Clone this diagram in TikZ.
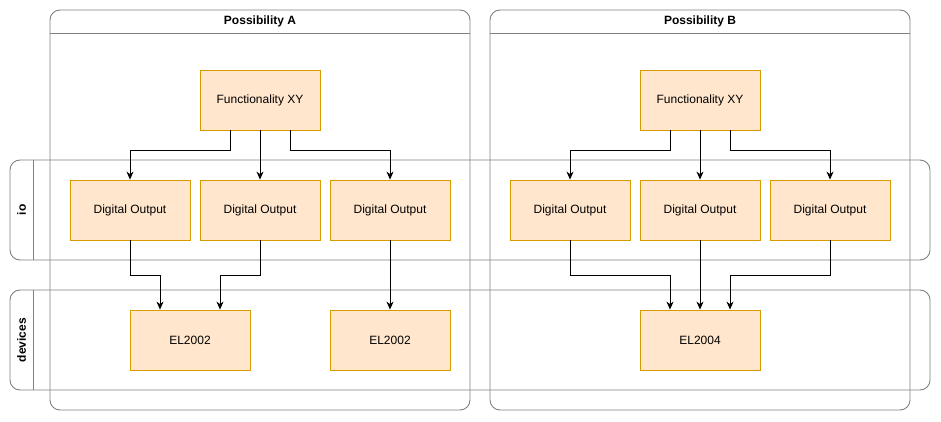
\documentclass[tikz,border=0pt]{standalone}
\usepackage{fontspec}
\setmainfont{Liberation Sans}
\usetikzlibrary{arrows.meta}
\definecolor{boxfill}{HTML}{FFE6CC}
\definecolor{boxline}{HTML}{D79B00}
\definecolor{laneline}{HTML}{808080}
\tikzset{
  block/.style={draw=boxline,fill=boxfill,line width=0.8pt,minimum width=120pt,minimum height=60pt,inner sep=0pt,font=\fontsize{12}{14}\selectfont},
  frame/.style={draw=laneline,line width=0.9pt,rounded corners=10pt},
  title/.style={font=\fontsize{12}{14}\selectfont\bfseries,inner sep=0pt},
  flow/.style={-{Stealth[length=8pt,width=7pt,inset=2.5pt]},line width=0.9pt}
}
\begin{document}
\begin{tikzpicture}[x=1pt,y=-1pt]
    \useasboundingbox (0,0) rectangle (941,422);
    \draw[frame](50,10)rectangle(470,410);
    \draw[laneline,line width=0.9pt](50,33)--(470,33);
    \node[title] (tA) at (260,21.5){Possibility A};
    \draw[frame](490,10)rectangle(910,410);
    \draw[laneline,line width=0.9pt](490,33)--(910,33);
    \node[title] (tB) at (700,21.5){Possibility B};
    \draw[frame](10,160)rectangle(930,260);
    \draw[laneline,line width=0.9pt](33,160)--(33,260);
    \node[title,rotate=90] (lio) at (21.5,210){io};
    \draw[frame](10,290)rectangle(930,390);
    \draw[laneline,line width=0.9pt](33,290)--(33,390);
    \node[title,rotate=90] (ldev) at (21.5,340){devices};
    \node[block] (fa) at (260,100){Functionality XY};
    \node[block] (fb) at (700,100){Functionality XY};
    \node[block] (doa1) at (130,210){Digital Output};
    \node[block] (doa2) at (260,210){Digital Output};
    \node[block] (doa3) at (390,210){Digital Output};
    \node[block] (dob1) at (570,210){Digital Output};
    \node[block] (dob2) at (700,210){Digital Output};
    \node[block] (dob3) at (830,210){Digital Output};
    \node[block] (ela1) at (190,340){EL2002};
    \node[block] (ela2) at (390,340){EL2002};
    \node[block] (elb) at (700,340){EL2004};
    \draw[flow]([xshift=-30pt]fa.south)--++(0,20)-|(doa1.north);
    \draw[flow](fa.south)--(doa2.north);
    \draw[flow]([xshift=30pt]fa.south)--++(0,20)-|(doa3.north);
    \draw[flow]([xshift=-30pt]fb.south)--++(0,20)-|(dob1.north);
    \draw[flow](fb.south)--(dob2.north);
    \draw[flow]([xshift=30pt]fb.south)--++(0,20)-|(dob3.north);
    \draw[flow](doa1.south)--++(0,35)-|([xshift=-30pt]ela1.north);
    \draw[flow](doa2.south)--++(0,35)-|([xshift=30pt]ela1.north);
    \draw[flow](doa3.south)--(ela2.north);
    \draw[flow](dob1.south)--++(0,35)-|([xshift=-30pt]elb.north);
    \draw[flow](dob2.south)--(elb.north);
    \draw[flow](dob3.south)--++(0,35)-|([xshift=30pt]elb.north);
\end{tikzpicture}
\end{document}
